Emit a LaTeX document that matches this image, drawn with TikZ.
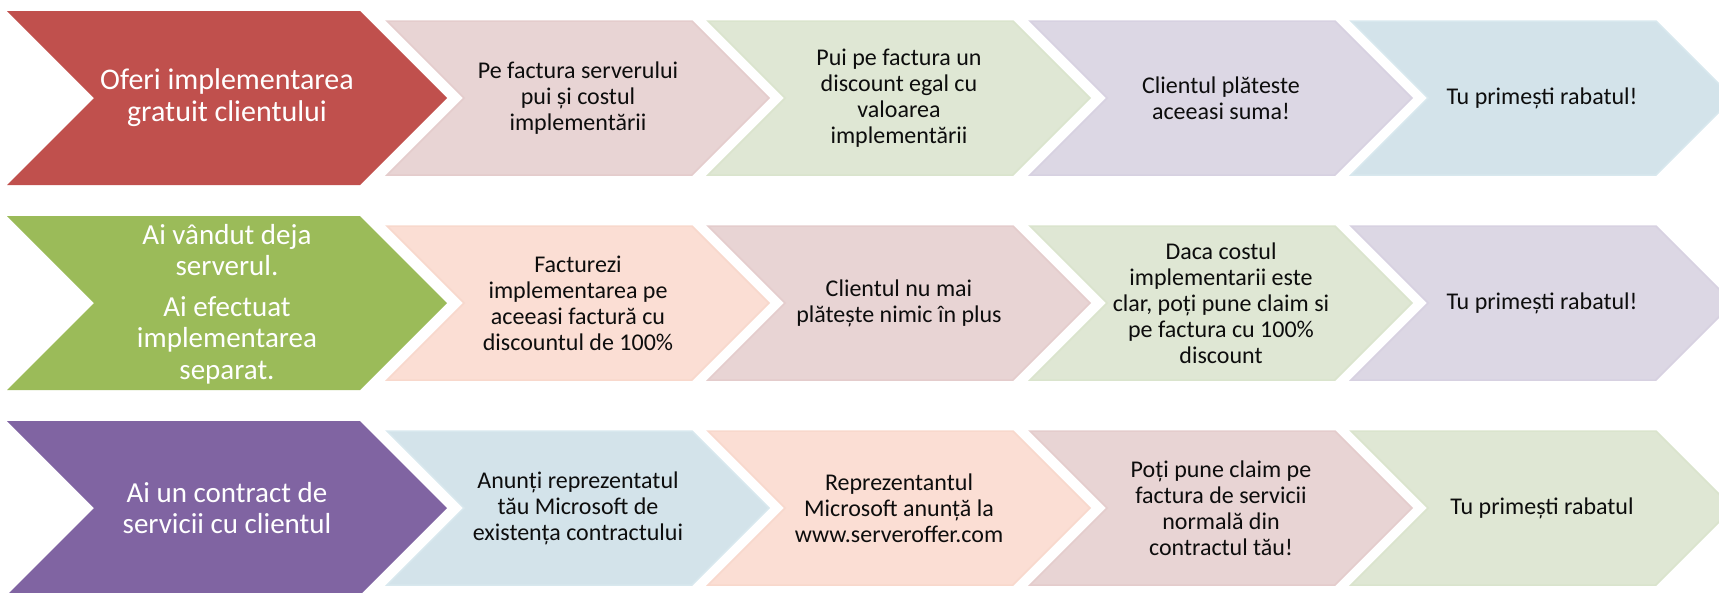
\documentclass[tikz,border=0pt]{standalone}
\usepackage{fontspec}
\setmainfont{Carlito}
\definecolor{cRed}{HTML}{C0504D}
\definecolor{cGreen}{HTML}{9BBB59}
\definecolor{cPurple}{HTML}{8064A2}
\definecolor{lPink}{HTML}{E8D4D4}
\definecolor{lPinkB}{HTML}{E4CCCC}
\definecolor{lGreen}{HTML}{DFE7D4}
\definecolor{lGreenB}{HTML}{DAE4CD}
\definecolor{lPurple}{HTML}{DCD7E4}
\definecolor{lPurpleB}{HTML}{D7D1E1}
\definecolor{lBlue}{HTML}{D3E3EA}
\definecolor{lBlueB}{HTML}{D8E8EE}
\definecolor{lPeach}{HTML}{FBDED4}
\definecolor{lPeachB}{HTML}{F8D8CC}
\definecolor{txt}{HTML}{0D0D0D}
\newcommand{\mychev}[5]{%
  \path[#5] (#1,#2-#3) -- (#1+#4-#3,#2-#3) -- (#1+#4,#2) -- (#1+#4-#3,#2+#3) -- (#1,#2+#3) -- (#1+#3,#2) -- cycle;}
\tikzset{
  mainchev/.style={fill=#1},
  subchev/.style={fill=l#1, draw=l#1B, line width=1.5pt, line join=miter},
  maintext/.style={text=white, align=center, inner sep=0pt, font=\fontsize{29}{31.5}\selectfont},
  subtext/.style={text=txt, align=center, inner sep=0pt, font=\fontsize{24}{26}\selectfont}
}
\begin{document}
\begin{tikzpicture}[x=1pt,y=-1pt]
\useasboundingbox (0,0) rectangle (1719,592);
\clip (0,0) rectangle (1719,592);
% ---------- Row 1 ----------
\mychev{7}{98}{87}{440}{mainchev=cRed}
\mychev{387}{98}{77}{382}{subchev=Pink}
\mychev{708}{98}{77}{382}{subchev=Green}
\mychev{1030}{98}{77}{382}{subchev=Purple}
\mychev{1351}{98}{77}{382}{subchev=Blue}
\node[maintext, font=\fontsize{30}{32}\selectfont] (r1a) at (227,98) {Oferi implementarea\\gratuit clientului};
\node[subtext] (r1b) at (578,98) {Pe factura serverului\\pui și costul\\implementării};
\node[subtext] (r1c) at (899,98) {Pui pe factura un\\discount egal cu\\valoarea\\implementării};
\node[subtext] (r1d) at (1221,98) {Clientul plăteste\\aceeasi suma!};
\node[subtext] (r1e) at (1542,98) {Tu primești rabatul!};
% ---------- Row 2 ----------
\mychev{7}{303}{87}{440}{mainchev=cGreen}
\mychev{387}{303}{77}{382}{subchev=Peach}
\mychev{708}{303}{77}{382}{subchev=Pink}
\mychev{1030}{303}{77}{382}{subchev=Green}
\mychev{1351}{303}{77}{382}{subchev=Purple}
\node[maintext] (r2a) at (227,304) {Ai vândut deja\\serverul.\\[9pt]Ai efectuat\\implementarea\\separat.};
\node[subtext] (r2b) at (578,303) {Facturezi\\implementarea pe\\aceeasi factură cu\\discountul de 100\%};
\node[subtext] (r2c) at (899,303) {Clientul nu mai\\plătește nimic în plus};
\node[subtext] (r2d) at (1221,303) {Daca costul\\implementarii este\\clar, poți pune claim si\\pe factura cu 100\%\\discount};
\node[subtext] (r2e) at (1542,303) {Tu primești rabatul!};
% ---------- Row 3 ----------
\mychev{7}{508}{87}{440}{mainchev=cPurple}
\mychev{387}{508}{77}{382}{subchev=Blue}
\mychev{708}{508}{77}{382}{subchev=Peach}
\mychev{1030}{508}{77}{382}{subchev=Pink}
\mychev{1351}{508}{77}{382}{subchev=Green}
\node[maintext] (r3a) at (227,508) {Ai un contract de\\servicii cu clientul};
\node[subtext] (r3b) at (578,508) {Anunți reprezentatul\\tău Microsoft de\\existența contractului};
\node[subtext] (r3c) at (899,508) {Reprezentantul\\Microsoft anunță la\\www.serveroffer.com};
\node[subtext] (r3d) at (1221,508) {Poți pune claim pe\\factura de servicii\\normală din\\contractul tău!};
\node[subtext] (r3e) at (1542,508) {Tu primești rabatul};
\end{tikzpicture}
\end{document}
